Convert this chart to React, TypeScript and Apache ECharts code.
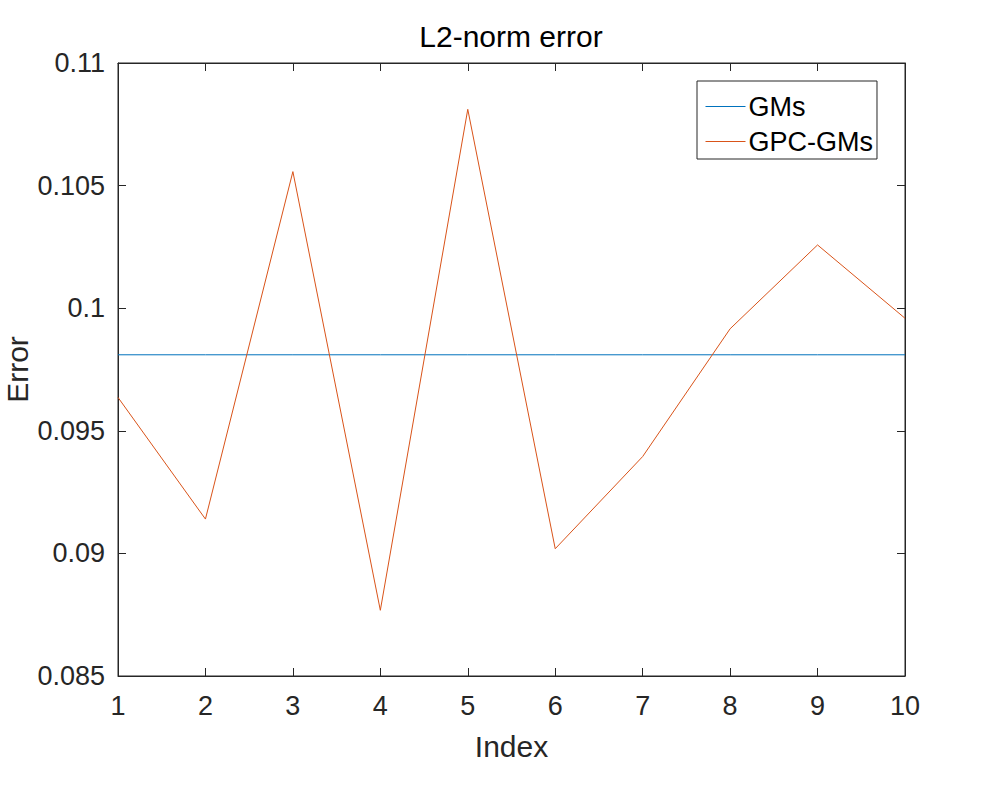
import React, { useEffect, useRef } from "react";
import * as echarts from "echarts";

const indices = [1, 2, 3, 4, 5, 6, 7, 8, 9, 10];
const gmsValue = 0.0981;
const gpcGms = [0.09636, 0.0914, 0.10557, 0.08768, 0.10811, 0.09019, 0.09395, 0.09916, 0.10258, 0.09959];

const FONT = "'Liberation Sans', Arial, Helvetica, sans-serif";
const AX = "#262626";
const BLUE = "#0072BD";
const ORANGE = "#D95319";

export default function App() {
  const ref = useRef<HTMLDivElement>(null);
  useEffect(() => {
    if (!ref.current) return;
    const chart = echarts.init(ref.current, undefined, { renderer: "svg" });
    const fmtY = (v: number) => parseFloat(v.toFixed(3)).toString();
    chart.setOption({
      animation: false,
      backgroundColor: "#ffffff",
      textStyle: { fontFamily: FONT },
      title: {
        text: "L2-norm error",
        left: 511,
        textAlign: "center",
        top: 21,
        padding: 0,
        textStyle: { fontFamily: FONT, fontSize: 30, fontWeight: "normal", color: "#000", lineHeight: 30 },
      },
      grid: {
        left: 118,
        top: 63,
        right: 92,
        bottom: 113,
        containLabel: false,
        outerBoundsMode: "none",
        show: true,
        borderColor: AX,
        borderWidth: 1,
        backgroundColor: "#fff",
      },
      legend: {
        orient: "vertical",
        left: 697,
        top: 81,
        padding: [12, 4, 4, 8],
        itemWidth: 40,
        itemHeight: 14,
        itemGap: 8,
        backgroundColor: "#fff",
        borderColor: AX,
        borderWidth: 1,
        borderRadius: 0,
        itemStyle: { opacity: 0 },
        lineStyle: { width: 1, opacity: 1 },
        textStyle: { fontFamily: FONT, fontSize: 27, color: "#000", lineHeight: 27, padding: [0, 0, 0, -2] },
        data: ["GMs", "GPC-GMs"],
      },
      xAxis: [
        {
          type: "value",
          min: 1,
          max: 10,
          interval: 1,
          name: "Index",
          nameLocation: "middle",
          nameGap: 55,
          nameMoveOverlap: false,
          nameTextStyle: { fontFamily: FONT, fontSize: 30, color: AX },
          axisLine: { show: true, lineStyle: { color: AX } },
          axisTick: { show: true, inside: true, length: 8, lineStyle: { color: AX } },
          axisLabel: { fontFamily: FONT, fontSize: 27, color: AX, margin: 16 },
          splitLine: { show: false },
        },
        {
          type: "value",
          min: 1,
          max: 10,
          interval: 1,
          position: "top",
          axisLine: { show: true, lineStyle: { color: AX } },
          axisTick: { show: true, inside: true, length: 8, lineStyle: { color: AX } },
          axisLabel: { show: false },
          splitLine: { show: false },
        },
      ],
      yAxis: [
        {
          type: "value",
          min: 0.085,
          max: 0.11,
          interval: 0.005,
          name: "Error",
          nameLocation: "middle",
          nameGap: 86,
          nameMoveOverlap: false,
          nameTextStyle: { fontFamily: FONT, fontSize: 30, color: AX, lineHeight: 30 },
          axisLine: { show: true, lineStyle: { color: AX } },
          axisTick: { show: true, inside: true, length: 8, lineStyle: { color: AX } },
          axisLabel: { fontFamily: FONT, fontSize: 27, color: AX, margin: 13, formatter: fmtY },
          splitLine: { show: false },
        },
        {
          type: "value",
          min: 0.085,
          max: 0.11,
          interval: 0.005,
          position: "right",
          axisLine: { show: true, lineStyle: { color: AX } },
          axisTick: { show: true, inside: true, length: 8, lineStyle: { color: AX } },
          axisLabel: { show: false },
          splitLine: { show: false },
        },
      ],
      series: [
        {
          name: "GMs",
          type: "line",
          symbol: "none",
          data: indices.map((i) => [i, gmsValue]),
          lineStyle: { color: BLUE, width: 1 },
          itemStyle: { color: BLUE },
        },
        {
          name: "GPC-GMs",
          type: "line",
          symbol: "none",
          data: indices.map((i, k) => [i, gpcGms[k]]),
          lineStyle: { color: ORANGE, width: 1 },
          itemStyle: { color: ORANGE },
        },
      ],
    });
    return () => chart.dispose();
  }, []);
  return <div ref={ref} style={{ width: 997, height: 789, position: "absolute", left: 0, top: 0 }} />;
}
